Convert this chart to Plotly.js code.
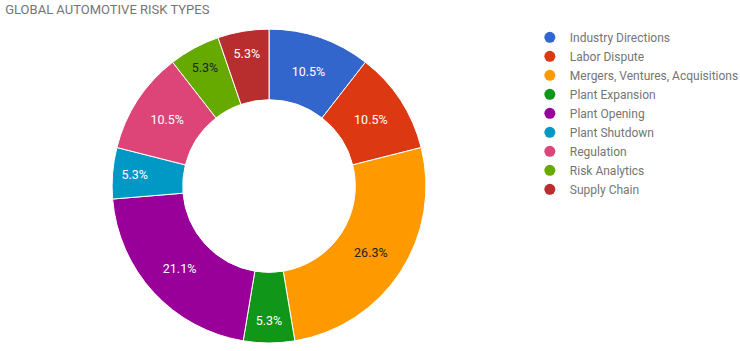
<!DOCTYPE html>
<html>
<head>
<meta charset="utf-8">
<script src="https://cdn.plot.ly/plotly-3.0.1.min.js"></script>
<style>html,body{margin:0;padding:0;background:#fff;}#chart{width:740px;height:351px;}</style>
</head>
<body>
<div id="chart"></div>
<script>
var categories = ["Industry Directions", "Labor Dispute", "Mergers, Ventures, Acquisitions", "Plant Expansion", "Plant Opening", "Plant Shutdown", "Regulation", "Risk Analytics", "Supply Chain"];
var counts = [2, 2, 5, 1, 4, 1, 2, 1, 1];
var colors = ["#3366cc", "#dc3912", "#ff9900", "#109618", "#990099", "#0099c6", "#dd4477", "#66aa00", "#b82e2e"];
var textColors = ["#ffffff", "#ffffff", "#222222", "#ffffff", "#ffffff", "#ffffff", "#ffffff", "#222222", "#ffffff"];

var traces = [{
  type: "pie",
  labels: categories,
  values: counts,
  sort: false,
  direction: "clockwise",
  rotation: 0,
  hole: 0.55,
  marker: {colors: colors, line: {color: "#ffffff", width: 1}},
  texttemplate: "%{percent:.1%}",
  textposition: "inside",
  insidetextorientation: "horizontal",
  textfont: {family: "Roboto, Arial, sans-serif", size: 12.5, color: textColors},
  showlegend: false,
  domain: {x: [0.1514, 0.5757], y: [0.0228, 0.917]},
  hoverinfo: "label+percent"
}];

categories.forEach(function (c, i) {
  traces.push({
    type: "scatter",
    mode: "markers",
    x: [null], y: [null],
    name: c,
    marker: {color: colors[i], size: 11, symbol: "circle"},
    showlegend: true,
    hoverinfo: "skip"
  });
});

var layout = {
  width: 740, height: 351,
  margin: {l: 0, r: 0, t: 0, b: 0, autoexpand: false},
  paper_bgcolor: "#ffffff",
  plot_bgcolor: "#ffffff",
  title: {
    text: "GLOBAL AUTOMOTIVE RISK TYPES",
    x: 0.007, xanchor: "left", y: 0.972, yanchor: "middle",
    font: {family: "Roboto, Arial, sans-serif", size: 13, color: "#757575"}
  },
  xaxis: {visible: false, domain: [0.9, 1]},
  yaxis: {visible: false, domain: [0.9, 1]},
  showlegend: true,
  legend: {
    x: 0.716, xanchor: "left", y: 0.935, yanchor: "top",
    font: {family: "Roboto, Arial, sans-serif", size: 12, color: "#757575"},
    tracegroupgap: 0, itemclick: false, itemdoubleclick: false,
    bgcolor: "rgba(0,0,0,0)"
  }
};

Plotly.newPlot("chart", traces, layout, {displayModeBar: false, staticPlot: true});
</script>
</body>
</html>
